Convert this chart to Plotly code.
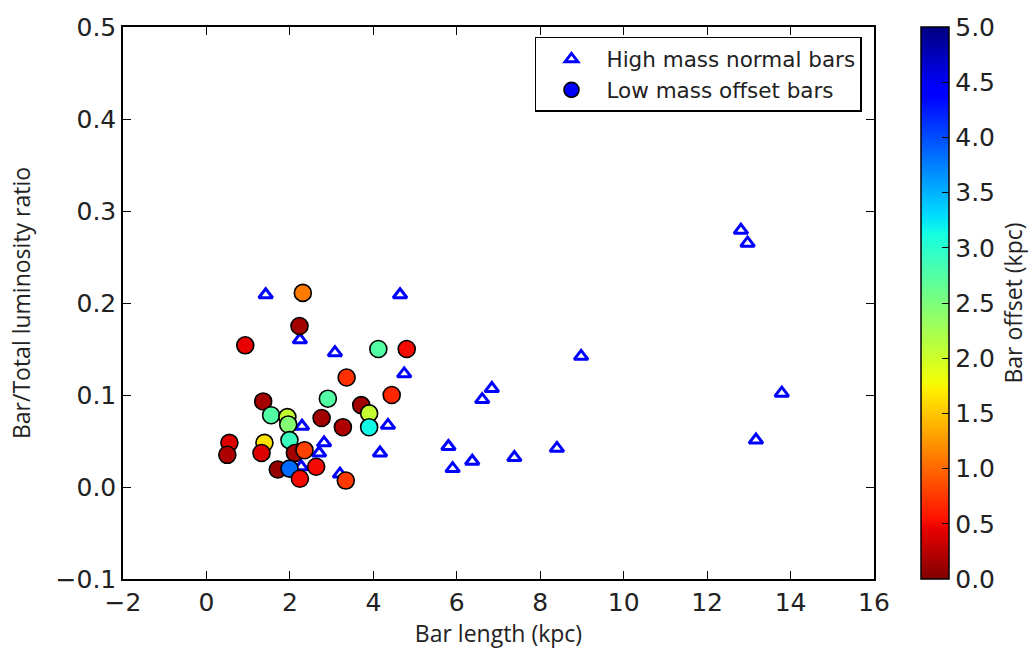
import plotly.graph_objects as go
import numpy as np

# High mass normal bars (triangles)
high_x = [1.42, 2.24, 4.64, 3.08, 4.74, 2.29, 4.35, 2.82, 2.70, 4.16, 3.20, 2.27,
          5.80, 5.90, 6.37, 6.61, 6.84, 7.38, 8.40, 8.98, 12.81, 12.97, 13.17, 13.79]
high_y = [0.209, 0.160, 0.209, 0.146, 0.123, 0.066, 0.067, 0.048, 0.037, 0.037, 0.014, 0.022,
          0.044, 0.020, 0.028, 0.095, 0.107, 0.032, 0.042, 0.142, 0.279, 0.265, 0.051, 0.102]

# Low mass offset bars (circles), coloured by bar offset (kpc)
low_x = [2.31, 2.23, 0.93, 4.12, 4.80, 3.36, 4.44, 1.36, 2.91, 3.71, 1.55, 1.94, 2.76, 3.90,
         3.27, 1.96, 3.90, 1.99, 0.55, 0.50, 1.39, 1.32, 2.12, 2.35, 1.71, 1.99, 2.63, 2.24, 3.34]
low_y = [0.211, 0.175, 0.154, 0.150, 0.150, 0.119, 0.100, 0.093, 0.096, 0.089, 0.078, 0.076, 0.075, 0.080,
         0.065, 0.068, 0.065, 0.051, 0.048, 0.035, 0.048, 0.037, 0.037, 0.040, 0.019, 0.020, 0.022, 0.009, 0.007]
low_offset = [1.1, 0.15, 0.45, 2.75, 0.5, 0.7, 0.65, 0.15, 2.75, 0.15, 2.75, 2.05, 0.15, 2.05,
              0.2, 2.45, 3.15, 2.9, 0.4, 0.2, 1.65, 0.4, 0.15, 0.8, 0.1, 3.85, 0.5, 0.5, 0.75]

series_names = ["High mass normal bars", "Low mass offset bars"]
x_ticks = list(range(-2, 17, 2))
y_ticks = [-0.1, 0.0, 0.1, 0.2, 0.3, 0.4, 0.5]
cb_ticks = [0.0, 0.5, 1.0, 1.5, 2.0, 2.5, 3.0, 3.5, 4.0, 4.5, 5.0]

# matplotlib 'jet' segment data, reversed to build jet_r
seg = {
    'r': [(0, 0), (0.35, 0), (0.66, 1), (0.89, 1), (1, 0.5)],
    'g': [(0, 0), (0.125, 0), (0.375, 1), (0.64, 1), (0.91, 0), (1, 0)],
    'b': [(0, 0.5), (0.11, 1), (0.34, 1), (0.65, 0), (1, 0)],
}
pts = sorted(set([p for s in seg.values() for p, _ in s]))
def jet(t):
    out = []
    for k in 'rgb':
        xs, vs = zip(*seg[k])
        out.append(int(round(255 * float(np.interp(t, xs, vs)))))
    return 'rgb(%d,%d,%d)' % tuple(out)
colorscale = [[1 - p, jet(p)] for p in pts][::-1]
colorscale[0][0] = 0.0
colorscale[-1][0] = 1.0

tick_font = dict(family="DejaVu Sans", size=25, color="#222")
label_font = dict(family="Open Sans", size=23, color="#222")

fig = go.Figure()
fig.add_trace(go.Scatter(
    x=high_x, y=high_y, mode="markers", name=series_names[0], showlegend=False,
    marker=dict(symbol="triangle-up-open", size=12, color="blue",
                line=dict(color="blue", width=3)),
))
fig.add_trace(go.Scatter(
    x=low_x, y=low_y, mode="markers", name=series_names[1], showlegend=False,
    marker=dict(symbol="circle", size=17, color=low_offset, colorscale=colorscale,
                cmin=0, cmax=5, line=dict(color="black", width=1.6),
                showscale=True,
                colorbar=dict(
                    x=1.0626, xanchor="left", y=0.5, yanchor="middle", len=1.0, lenmode="fraction",
                    thickness=28, outlinewidth=1.5, outlinecolor="black",
                    ticks="inside", ticklen=7, tickcolor="black", tickvals=cb_ticks,
                    tickformat=".1f", tickfont=tick_font, ypad=0, xpad=0,
                    title=dict(text="Bar offset (kpc)", side="right", font=label_font),
                )),
))
# legend entries (matplotlib legend shows plain blue handles)
fig.add_trace(go.Scatter(
    x=[None], y=[None], mode="markers", name=series_names[0],
    marker=dict(symbol="triangle-up-open", size=11, color="blue", line=dict(color="blue", width=3)),
))
fig.add_trace(go.Scatter(
    x=[None], y=[None], mode="markers", name=series_names[1],
    marker=dict(symbol="circle", size=15, color="blue", line=dict(color="black", width=1.6)),
))

axis_common = dict(showgrid=False, zeroline=False, showline=True, linecolor="black", linewidth=1.5,
                   mirror="ticks", ticks="inside", ticklen=8, tickcolor="black", tickwidth=1,
                   tickfont=tick_font)
fig.update_xaxes(range=[-2, 16], tickvals=x_ticks,
                 title=dict(text="Bar length (kpc)", font=label_font, standoff=2), **axis_common)
fig.update_yaxes(range=[-0.1, 0.5], tickvals=y_ticks, tickformat=".1f",
                 title=dict(text="Bar/Total luminosity ratio", font=label_font, standoff=18), **axis_common)

fig.update_layout(
    width=1032, height=650,
    margin=dict(l=123, r=158, t=27, b=71, autoexpand=False),
    plot_bgcolor="white", paper_bgcolor="white",
    legend=dict(x=0.984, xanchor="right", y=0.982, yanchor="top",
                bordercolor="black", borderwidth=1.5, bgcolor="white",
                font=dict(family="DejaVu Sans", size=21.5, color="#222"),
                itemsizing="trace", itemwidth=60),
)
fig.write_html("out.html")
